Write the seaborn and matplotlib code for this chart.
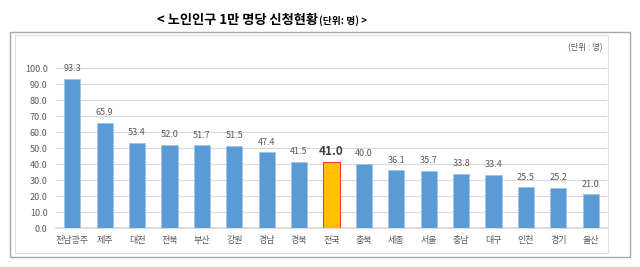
import matplotlib
matplotlib.use('Agg')
import matplotlib.pyplot as plt
import matplotlib.patches as mpatches
import seaborn as sns
import pandas as pd

regions = ['전남광주', '제주', '대전', '전북', '부산', '강원', '경남', '경북', '전국',
           '충북', '세종', '서울', '충남', '대구', '인천', '경기', '울산']
values = [93.3, 65.9, 53.4, 52.0, 51.7, 51.5, 47.4, 41.5, 41.0,
          40.0, 36.1, 35.7, 33.8, 33.4, 25.5, 25.2, 21.0]
highlight = '전국'

sns.set_theme(style='white')
plt.rcParams['font.family'] = ['Noto Sans CJK KR', 'DejaVu Sans']

df = pd.DataFrame({'region': regions, 'value': values})
colors = ['#FFC000' if r == highlight else '#5B9BD5' for r in regions]

fig = plt.figure(figsize=(6.4, 2.67), dpi=100)

# outer frame boxes
fig.patches.append(mpatches.Rectangle((10 / 640, 1 - 257 / 267), 620 / 640, 225 / 267,
                                      transform=fig.transFigure, fill=False,
                                      edgecolor='#A6A6A6', linewidth=1.0))
fig.patches.append(mpatches.Rectangle((15 / 640, 1 - 253 / 267), 593 / 640, 218 / 267,
                                      transform=fig.transFigure, fill=False,
                                      edgecolor='#E0E0E0', linewidth=0.8))

ax = fig.add_axes([56 / 640, 1 - 228 / 267, 551 / 640, 160 / 267])
sns.barplot(data=df, x='region', y='value', hue='region', palette=colors,
            saturation=1, legend=False, width=0.5, ax=ax, zorder=3)

for i, p in enumerate(ax.patches):
    if regions[i] == highlight:
        p.set_edgecolor('#FF3B3B')
        p.set_linewidth(0.8)
    else:
        p.set_edgecolor('#9DC3E6')
        p.set_linewidth(0.5)

for i, v in enumerate(values):
    if regions[i] == highlight:
        ax.text(i, v + 2.5, f'{v:.1f}', ha='center', va='bottom', fontsize=8.5,
                fontweight='bold', color='#404040')
    else:
        ax.text(i, v + 3.5, f'{v:.1f}', ha='center', va='bottom', fontsize=6.5,
                color='#595959')

ax.set_ylim(0, 100)
ax.set_yticks(range(0, 101, 10))
ax.set_yticklabels([f'{t:.1f}' for t in range(0, 101, 10)])
ax.grid(axis='y', color='#D9D9D9', linewidth=0.8, zorder=0)
ax.set_axisbelow(True)
for s in ['top', 'right', 'left']:
    ax.spines[s].set_visible(False)
ax.spines['bottom'].set_color('#D9D9D9')
ax.tick_params(axis='both', labelsize=6.5, colors='#595959', length=0, pad=6)
ax.set_xlabel('')
ax.set_ylabel('')

fig.text(318 / 640, 1 - 20 / 267, '< 노인인구 1만 명당 신청현황', ha='right', va='center',
         fontsize=9.5, fontweight='bold', color='#000000')
fig.text(319 / 640, 1 - 21 / 267, '(단위: 명) >', ha='left', va='center',
         fontsize=7, fontweight='bold', color='#000000')
fig.text(602 / 640, 1 - 48 / 267, '(단위 : 명)', ha='right', va='center',
         fontsize=6, color='#595959')

fig.savefig('out.png', dpi=100)
